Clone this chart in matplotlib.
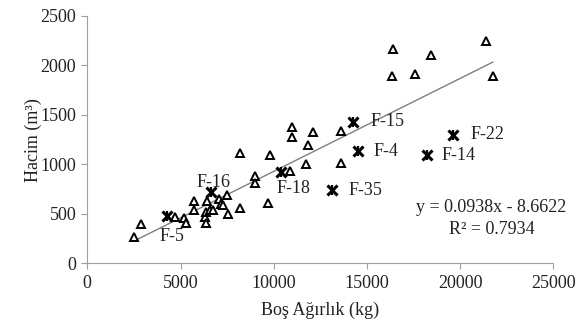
import matplotlib
matplotlib.use("Agg")
import matplotlib.pyplot as plt
import numpy as np

plt.rcParams['font.family'] = ['Liberation Serif', 'DejaVu Serif']

# Data: open triangles (Boş Ağırlık kg, Hacim m3)
tri_x = [2500, 2900, 4700, 5200, 5300, 5700, 5750, 6300, 6350, 6400, 6350, 6600, 6750,
         7050, 7150, 7300, 7500, 7550, 8200, 8200, 9000, 9000, 9700, 9800, 10900,
         11000, 11000, 11750, 11850, 12100, 13600, 13600, 16400, 16350, 17600, 18450,
         21400, 21750]
tri_y = [270, 400, 470, 460, 410, 630, 540, 470, 410, 630, 520, 540, 540,
         650, 600, 590, 690, 500, 560, 1110, 880, 810, 610, 1090, 930,
         1380, 1280, 1000, 1200, 1330, 1340, 1010, 2160, 1890, 1910, 2100,
         2240, 1890]

# Labelled star points
star_names = ['F-5', 'F-16', 'F-18', 'F-15', 'F-4', 'F-35', 'F-22', 'F-14']
star_x = [4300, 6620, 10400, 14250, 14500, 13100, 19600, 18200]
star_y = [480, 720, 920, 1430, 1130, 740, 1300, 1090]

# Trend line
slope = 0.0938
intercept = -8.6622
eq_text = 'y = 0.0938x - 8.6622'
r2_text = 'R² = 0.7934'

x_ticks = [0, 5000, 10000, 15000, 20000, 25000]
y_ticks = [0, 500, 1000, 1500, 2000, 2500]

fig = plt.figure(figsize=(5.77, 3.22), dpi=100)
ax = fig.add_axes([0.1513, 0.1817, 0.8077, 0.7695])

all_x = np.array(tri_x + star_x)
lx = np.array([all_x.min(), all_x.max()])
ax.plot(lx, slope * lx + intercept, color='#7f7f7f', lw=1.0, zorder=1)

ax.plot(tri_x, tri_y, linestyle='none', marker='^', markersize=6,
        markerfacecolor='white', markeredgecolor='black', markeredgewidth=1.4, zorder=3)
ax.plot(star_x, star_y, linestyle='none', marker='x', markersize=7.5,
        color='black', markeredgewidth=2.2, zorder=4)
ax.plot(star_x, star_y, linestyle='none', marker='|', markersize=7.5,
        color='black', markeredgewidth=1.6, zorder=4)

offsets = {
    'F-5': ((3, -15), 'center'),
    'F-16': ((2, 7), 'center'),
    'F-18': ((9, -12), 'center'),
    'F-15': ((13, 0), 'left'),
    'F-4': ((11.5, 0), 'left'),
    'F-35': ((12, 0), 'left'),
    'F-22': ((12.5, 0), 'left'),
    'F-14': ((11, 0), 'left'),
}
for n, x, y in zip(star_names, star_x, star_y):
    off, ha = offsets[n]
    ax.annotate(n, (x, y), xytext=off, textcoords='offset points',
                ha=ha, va='center', fontsize=13, color='#222222')

ax.text(0.867, 0.224, eq_text, transform=ax.transAxes, ha='center', va='center',
        fontsize=13, color='#222222', clip_on=False)
ax.text(0.867, 0.139, r2_text, transform=ax.transAxes, ha='center', va='center',
        fontsize=13, color='#222222', clip_on=False)

ax.set_xlim(0, 25000)
ax.set_ylim(0, 2500)
ax.set_xticks(x_ticks)
ax.set_yticks(y_ticks)
ax.tick_params(axis='both', labelsize=13, color='#a0a0a0', length=4, width=0.8,
               labelcolor='#222222', direction='out', pad=4)
for s in ['top', 'right']:
    ax.spines[s].set_visible(False)
for s in ['left', 'bottom']:
    ax.spines[s].set_color('#a0a0a0')
    ax.spines[s].set_linewidth(0.8)

ax.set_xlabel('Boş Ağırlık (kg)', fontsize=13, color='#222222', labelpad=7)
ax.set_ylabel('Hacim (m³)', fontsize=13, color='#222222', labelpad=-1)

fig.savefig('out.png', dpi=100)
